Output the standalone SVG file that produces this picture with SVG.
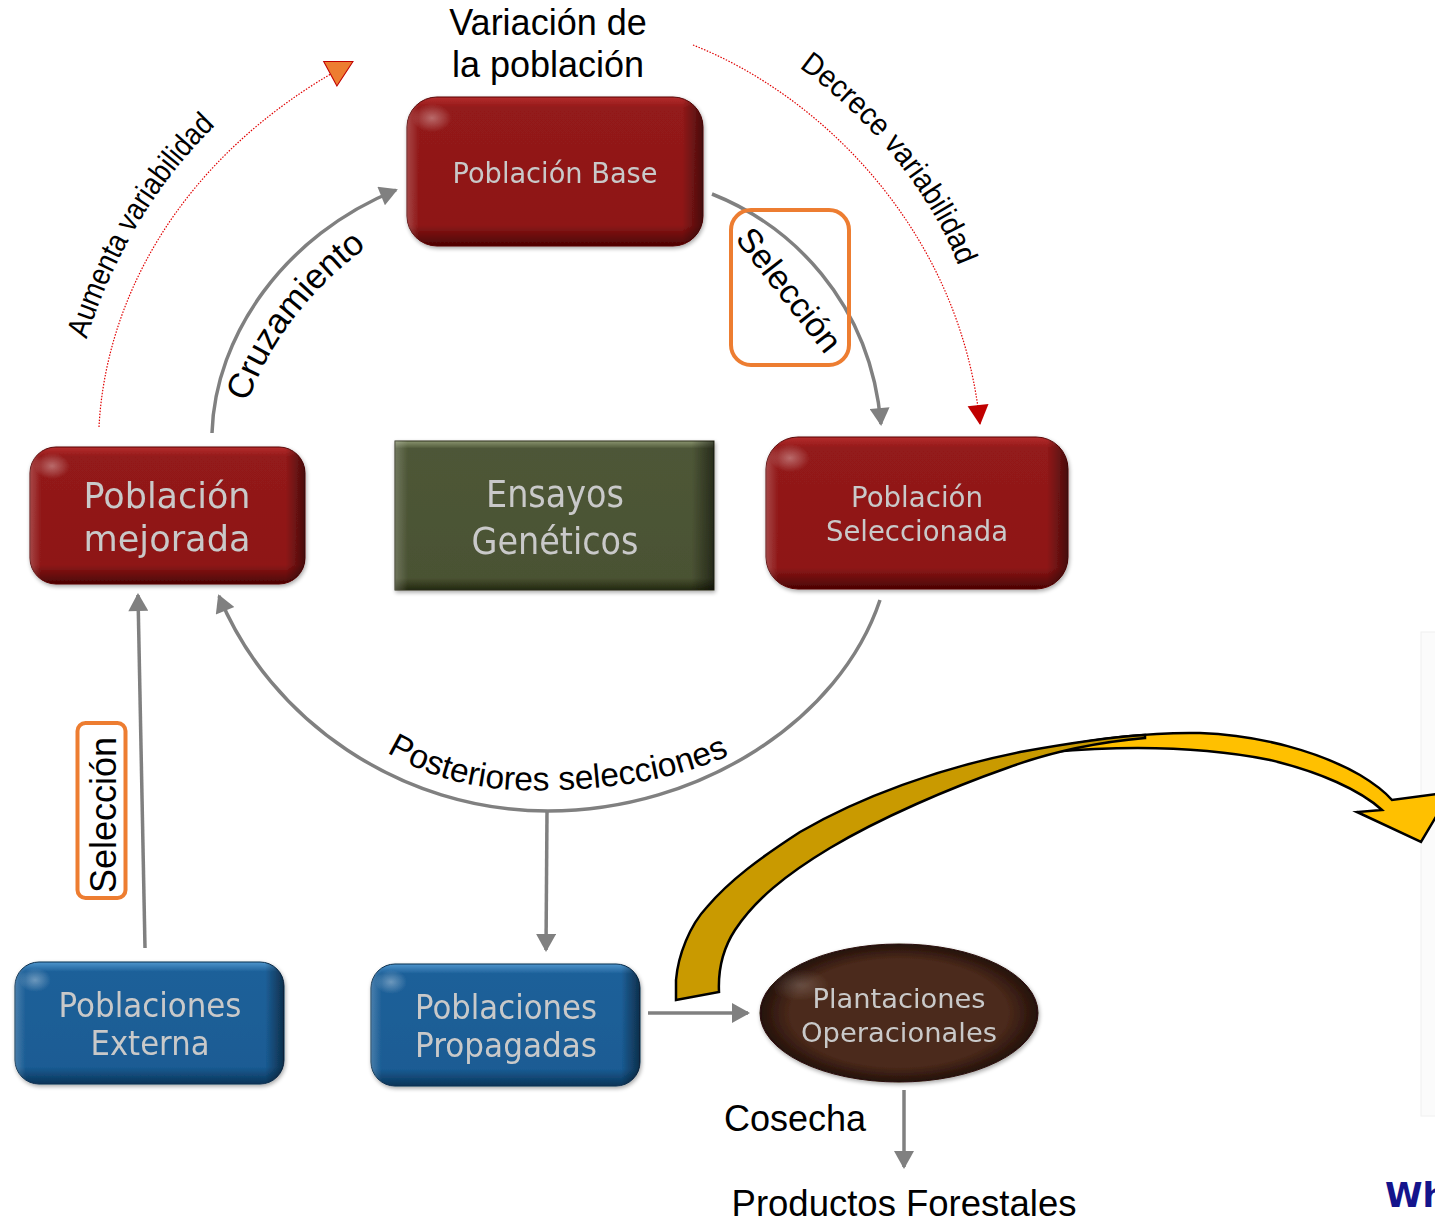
<svg xmlns="http://www.w3.org/2000/svg" width="1435" height="1222" viewBox="0 0 1435 1222">
<style>
.nt{font-family:"DejaVu Sans",Verdana,sans-serif;fill:#c9c9c9;text-anchor:middle}
.lb{font-family:"Liberation Sans",Arial,sans-serif;fill:#000}
.con{fill:none;stroke:#808080;stroke-width:3.5}
.dot{fill:none;stroke:#e00000;stroke-width:1.2;stroke-dasharray:1.5 1.5}
.box{fill:none;stroke:#ed7d31;stroke-width:4}
</style>
<defs>
<linearGradient id="redV" x1="0" y1="0" x2="0" y2="1">
<stop offset="0" stop-color="#b52c2c"/><stop offset="0.07" stop-color="#931a1a"/><stop offset="0.86" stop-color="#8e1717"/><stop offset="1" stop-color="#4a0303"/>
</linearGradient>
<linearGradient id="blueV" x1="0" y1="0" x2="0" y2="1">
<stop offset="0" stop-color="#4f95cc"/><stop offset="0.08" stop-color="#1d6099"/><stop offset="0.86" stop-color="#1a5c94"/><stop offset="1" stop-color="#0a3458"/>
</linearGradient>
<linearGradient id="greenV" x1="0" y1="0" x2="0" y2="1">
<stop offset="0" stop-color="#8a9470"/><stop offset="0.05" stop-color="#4e5737"/><stop offset="0.92" stop-color="#4a5233"/><stop offset="1" stop-color="#23280f"/>
</linearGradient>
<linearGradient id="edgeH" x1="0" y1="0" x2="1" y2="0">
<stop offset="0" stop-color="#fff" stop-opacity="0.2"/><stop offset="0.04" stop-color="#fff" stop-opacity="0"/><stop offset="0.93" stop-color="#000" stop-opacity="0"/><stop offset="1" stop-color="#000" stop-opacity="0.5"/>
</linearGradient>
<radialGradient id="brown" cx="0.5" cy="0.5" r="0.5">
<stop offset="0.78" stop-color="#4b2a1b"/><stop offset="1" stop-color="#24100a"/>
</radialGradient>
<radialGradient id="gloss" cx="0.5" cy="0.5" r="0.5">
<stop offset="0" stop-color="#fff" stop-opacity="0.35"/><stop offset="1" stop-color="#fff" stop-opacity="0"/>
</radialGradient>
<filter id="sh" x="-5%" y="-5%" width="112%" height="118%">
<feGaussianBlur in="SourceAlpha" stdDeviation="2"/><feOffset dx="1" dy="2"/>
<feComponentTransfer><feFuncA type="linear" slope="0.35"/></feComponentTransfer>
<feMerge><feMergeNode/><feMergeNode in="SourceGraphic"/></feMerge>
</filter>
<marker id="ag" markerUnits="userSpaceOnUse" markerWidth="20" markerHeight="20" viewBox="0 0 18 20" refX="16" refY="10" orient="auto">
<path d="M0,0 L18,10 L0,20 z" fill="#808080"/>
</marker>
<marker id="ared" markerUnits="userSpaceOnUse" markerWidth="22" markerHeight="22" viewBox="0 0 20 22" refX="19" refY="11" orient="auto">
<path d="M0,0.5 L20,11 L0,21.5 z" fill="#c00000"/>
</marker>
<marker id="aor" markerUnits="userSpaceOnUse" markerWidth="28" markerHeight="30" viewBox="0 0 26 28" refX="24" refY="14" orient="auto">
<path d="M1,1 L25,14 L1,27 z" fill="#ed7d31" stroke="#c00000" stroke-width="1"/>
</marker>
<path id="tpAum" d="M86,341 C108,270 150,188 217,124"/>
<path id="tpDec" d="M800,68 C865,115 930,190 958,265"/>
<path id="tpCru" d="M247,404 C270,340 310,290 368,246"/>
<path id="tpPos" d="M386,752 C450,790 510,792 560,790 C620,788 680,778 730,755"/>
</defs>

<rect x="1421" y="632" width="20" height="484" fill="#fbfbfb" stroke="#f0f0f0"/>

<g id="connectors">
<path class="con" d="M212,433 C215,335 285,235 396,190" marker-end="url(#ag)"/>
<path class="con" d="M712,194 C790,225 870,300 881,424" marker-end="url(#ag)"/>
<path class="con" d="M880,600 C840,720 700,811 548,811 C400,811 270,720 219,596" marker-end="url(#ag)"/>
<path class="con" d="M547,811 L546,950" marker-end="url(#ag)"/>
<path class="con" d="M145,948 L138,595" marker-end="url(#ag)"/>
<path class="con" d="M648,1013 L748,1013" marker-end="url(#ag)"/>
<path class="con" d="M904,1090 L904,1167" marker-end="url(#ag)"/>
<path class="dot" d="M99,427 C105,310 170,160 352,62" marker-end="url(#aor)"/>
<path class="dot" d="M693,45 C820,95 960,230 980,424" marker-end="url(#ared)"/>
</g>

<g id="yellow-arrow" stroke="#000" stroke-width="2.5" stroke-linejoin="miter">
<path fill="#ffc000" d="M1050,748 C1100,738 1150,732 1200,733 C1260,735 1320,752 1360,775 C1375,784 1385,792 1392,800 L1437,794 L1437,815 L1421,842 L1357,812 L1382,810 C1360,790 1320,772 1270,760 C1200,746 1120,746 1050,752 Z"/>
<path fill="#c99a00" d="M676,1000 L676,980 C678,955 690,925 707,907 C730,880 760,858 800,832 C860,797 940,768 1020,752 C1070,743 1110,737 1145,735 L1145,738 C1100,742 1050,752 1007,768 C950,788 880,818 830,848 C785,875 755,900 735,930 C722,950 718,970 719,992 Z"/>
</g>

<g id="n-base" filter="url(#sh)">
<rect x="407" y="97" width="296" height="149" rx="30" fill="url(#redV)" stroke="#5a0707"/>
<rect x="407" y="97" width="296" height="149" rx="30" fill="url(#edgeH)"/>
<ellipse cx="432" cy="118" rx="20" ry="14" fill="url(#gloss)"/>
<text class="nt" x="555" y="183" font-size="27.5" textLength="205" lengthAdjust="spacingAndGlyphs">Población Base</text>
</g>

<g id="n-mejorada" filter="url(#sh)">
<rect x="30" y="447" width="275" height="137" rx="26" fill="url(#redV)" stroke="#5a0707"/>
<rect x="30" y="447" width="275" height="137" rx="26" fill="url(#edgeH)"/>
<ellipse cx="52" cy="466" rx="18" ry="13" fill="url(#gloss)"/>
<text class="nt" x="167" y="508" font-size="35" textLength="167" lengthAdjust="spacingAndGlyphs">Población</text>
<text class="nt" x="167" y="551" font-size="35" textLength="167" lengthAdjust="spacingAndGlyphs">mejorada</text>
</g>

<g id="n-ensayos" filter="url(#sh)">
<rect x="395" y="441" width="319" height="149" fill="url(#greenV)" stroke="#2a2f18"/>
<rect x="395" y="441" width="319" height="149" fill="url(#edgeH)"/>
<text class="nt" x="555" y="507" font-size="38" textLength="138" lengthAdjust="spacingAndGlyphs">Ensayos</text>
<text class="nt" x="555" y="554" font-size="38" textLength="167" lengthAdjust="spacingAndGlyphs">Genéticos</text>
</g>

<g id="n-seleccionada" filter="url(#sh)">
<rect x="766" y="437" width="302" height="152" rx="32" fill="url(#redV)" stroke="#5a0707"/>
<rect x="766" y="437" width="302" height="152" rx="32" fill="url(#edgeH)"/>
<ellipse cx="790" cy="458" rx="20" ry="14" fill="url(#gloss)"/>
<text class="nt" x="917" y="507" font-size="27.5" textLength="132" lengthAdjust="spacingAndGlyphs">Población</text>
<text class="nt" x="917" y="541" font-size="27.5" textLength="182" lengthAdjust="spacingAndGlyphs">Seleccionada</text>
</g>

<g id="n-externa" filter="url(#sh)">
<rect x="15" y="962" width="269" height="122" rx="24" fill="url(#blueV)" stroke="#0a3050"/>
<rect x="15" y="962" width="269" height="122" rx="24" fill="url(#edgeH)"/>
<ellipse cx="35" cy="980" rx="16" ry="12" fill="url(#gloss)"/>
<text class="nt" x="150" y="1017" font-size="33" textLength="183" lengthAdjust="spacingAndGlyphs">Poblaciones</text>
<text class="nt" x="150" y="1055" font-size="33" textLength="119" lengthAdjust="spacingAndGlyphs">Externa</text>
</g>

<g id="n-propagadas" filter="url(#sh)">
<rect x="371" y="964" width="269" height="122" rx="24" fill="url(#blueV)" stroke="#0a3050"/>
<rect x="371" y="964" width="269" height="122" rx="24" fill="url(#edgeH)"/>
<ellipse cx="391" cy="982" rx="16" ry="12" fill="url(#gloss)"/>
<text class="nt" x="506" y="1019" font-size="33" textLength="182" lengthAdjust="spacingAndGlyphs">Poblaciones</text>
<text class="nt" x="506" y="1057" font-size="33" textLength="182" lengthAdjust="spacingAndGlyphs">Propagadas</text>
</g>

<g id="n-plantaciones" filter="url(#sh)">
<ellipse cx="899" cy="1013" rx="139" ry="69" fill="url(#brown)" stroke="#2a1208"/>
<ellipse cx="800" cy="985" rx="30" ry="16" fill="url(#gloss)" opacity="0.5"/>
<text class="nt" x="899" y="1008" font-size="27" textLength="173" lengthAdjust="spacingAndGlyphs">Plantaciones</text>
<text class="nt" x="899" y="1042" font-size="27" textLength="196" lengthAdjust="spacingAndGlyphs">Operacionales</text>
</g>

<g id="labels">
<text class="lb" x="548" y="35" font-size="36" text-anchor="middle">Variación de</text>
<text class="lb" x="548" y="77" font-size="36" text-anchor="middle">la población</text>
<text class="lb" font-size="31" text-anchor="middle"><textPath href="#tpAum" startOffset="50%" textLength="252" lengthAdjust="spacingAndGlyphs">Aumenta variabilidad</textPath></text>
<text class="lb" font-size="31" text-anchor="middle"><textPath href="#tpDec" startOffset="50%" textLength="258" lengthAdjust="spacingAndGlyphs">Decrece variabilidad</textPath></text>
<text class="lb" font-size="35" text-anchor="middle"><textPath href="#tpCru" startOffset="50%">Cruzamiento</textPath></text>
<text class="lb" font-size="33.5" text-anchor="middle"><textPath href="#tpPos" startOffset="50%">Posteriores selecciones</textPath></text>
<rect class="box" x="731" y="210" width="118" height="155" rx="20"/>
<text class="lb" font-size="34" text-anchor="middle" transform="translate(780,297) rotate(52)">Selección</text>
<rect class="box" x="77.5" y="723" width="48" height="175" rx="8"/>
<text class="lb" font-size="36" text-anchor="middle" transform="translate(116,815) rotate(-90)">Selección</text>
<text class="lb" x="795" y="1131" font-size="36" text-anchor="middle">Cosecha</text>
<text class="lb" x="904" y="1216" font-size="36.5" text-anchor="middle">Productos Forestales</text>
<text x="1385" y="1207" font-family="DejaVu Sans,Verdana,sans-serif" font-weight="bold" font-size="34" fill="#14148c">Wh</text>
</g>
</svg>
